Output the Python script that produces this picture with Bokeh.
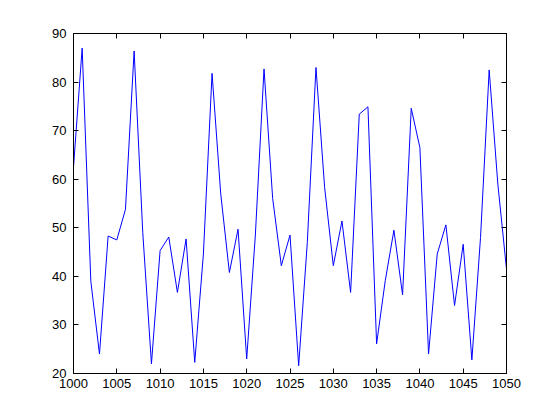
from bokeh.plotting import figure
from bokeh.models import LinearAxis, FixedTicker, Range1d
from bokeh.embed import file_html
from bokeh.resources import INLINE

x_values = list(range(1000, 1051))
y_values = [62.5, 87, 39, 24, 48.3, 47.5, 53.8, 86.4, 49, 22,
            45.3, 48.1, 36.7, 47.7, 22.3, 44.6, 81.8, 57, 40.8, 49.7,
            23, 48.5, 82.7, 56, 42.2, 48.5, 21.6, 47, 83, 58.3,
            42.2, 51.4, 36.7, 73.4, 74.9, 26.1, 39.1, 49.5, 36.2, 74.6,
            66.5, 24, 44.6, 50.6, 34, 46.6, 22.8, 48, 82.5, 59,
            41.5]
x_ticks = list(range(1000, 1051, 5))
y_ticks = list(range(20, 91, 10))

p = figure(frame_width=433, frame_height=340, output_backend="svg", toolbar_location=None,
           x_range=Range1d(1000, 1050), y_range=Range1d(20, 90),
           min_border_left=73, min_border_right=46, min_border_top=33, min_border_bottom=39,
           x_axis_location=None, y_axis_location=None)
p.background_fill_color = "white"
p.border_fill_color = "white"
p.outline_line_color = "black"
p.outline_line_width = 1
p.xgrid.visible = False
p.ygrid.visible = False

p.line(x_values, y_values, line_color="#0000ff", line_width=1)

def style(ax):
    ax.major_tick_in = 5
    ax.major_tick_out = 0
    ax.minor_tick_line_color = None
    ax.axis_line_color = "black"
    ax.major_tick_line_color = "black"
    ax.major_label_text_font = "Liberation Sans"
    ax.major_label_text_font_size = "13px"
    ax.major_label_text_color = "black"

bx = LinearAxis(ticker=FixedTicker(ticks=x_ticks))
style(bx)
bx.major_label_standoff = 5
p.add_layout(bx, "below")
ly = LinearAxis(ticker=FixedTicker(ticks=y_ticks))
style(ly)
ly.major_label_standoff = 7
p.add_layout(ly, "left")

# box ticks on top and right (no labels): use minor ticks only
tx = LinearAxis(ticker=FixedTicker(ticks=[], minor_ticks=x_ticks))
tx.minor_tick_in = 5
tx.minor_tick_out = 0
tx.minor_tick_line_color = "black"
tx.major_tick_line_color = None
tx.axis_line_color = "black"
p.add_layout(tx, "above")
ry = LinearAxis(ticker=FixedTicker(ticks=[], minor_ticks=y_ticks))
ry.minor_tick_in = 5
ry.minor_tick_out = 0
ry.minor_tick_line_color = "black"
ry.major_tick_line_color = None
ry.axis_line_color = "black"
p.add_layout(ry, "right")

open("out.html", "w").write(file_html(p, INLINE))
